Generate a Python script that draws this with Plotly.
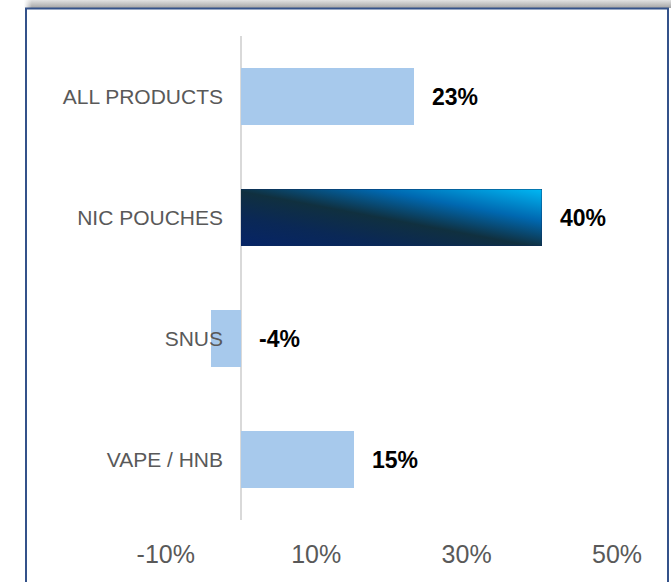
import base64
import plotly.graph_objects as go

# ---- data ----
categories = ["ALL PRODUCTS", "NIC POUCHES", "SNUS", "VAPE / HNB"]
values = [23, 40, -4, 15]
tick_values = [-10, 10, 30, 50]
tick_labels = ["-10%", "10%", "30%", "50%"]
highlight = "NIC POUCHES"

# ---- layout geometry (pixels) ----
W, H = 671, 582
L, R, T, B = 130, 640, 36, 520
BAR_W = 0.467

LIGHT = "#a7c9ec"
NAVY = "#0b2a5c"
FONT = "Liberation Sans, Arial, sans-serif"


def px2paper_x(px):
    return (px - L) / (R - L)


def px2paper_y(py):
    return (B - py) / (B - T)


def svg_uri(svg):
    return "data:image/svg+xml;base64," + base64.b64encode(svg.encode()).decode()


bar_grad = svg_uri(
    "<svg xmlns='http://www.w3.org/2000/svg' width='300' height='56' viewBox='0 0 100 100' "
    "preserveAspectRatio='none'><defs><linearGradient id='g' x1='0' y1='1' x2='1' y2='0'>"
    "<stop offset='0' stop-color='#062466'/>"
    "<stop offset='0.25' stop-color='#0a2856'/>"
    "<stop offset='0.48' stop-color='#10303f'/>"
    "<stop offset='0.72' stop-color='#0068b0'/>"
    "<stop offset='1' stop-color='#00b8f4'/>"
    "</linearGradient></defs><rect width='100' height='100' fill='url(#g)'/></svg>"
)

shadow = svg_uri(
    "<svg xmlns='http://www.w3.org/2000/svg' width='600' height='10' viewBox='0 0 100 100' "
    "preserveAspectRatio='none'><defs>"
    "<linearGradient id='v' x1='0' y1='0' x2='0' y2='1'>"
    "<stop offset='0' stop-color='#e2e2e2'/><stop offset='1' stop-color='#a4a4a4'/>"
    "</linearGradient>"
    "<linearGradient id='h' x1='0' y1='0' x2='1' y2='0'>"
    "<stop offset='0' stop-color='white' stop-opacity='1'/>"
    "<stop offset='0.012' stop-color='white' stop-opacity='0'/>"
    "</linearGradient></defs>"
    "<rect width='100' height='100' fill='url(#v)'/>"
    "<rect width='100' height='100' fill='url(#h)'/></svg>"
)

colors = [NAVY if c == highlight else LIGHT for c in categories]

fig = go.Figure()
fig.add_trace(
    go.Bar(
        x=values,
        y=categories,
        orientation="h",
        width=BAR_W,
        marker=dict(color=colors, line=dict(width=0)),
        hoverinfo="skip",
        showlegend=False,
    )
)

# gradient fill for the highlighted bar
for c, v in zip(categories, values):
    if c == highlight:
        fig.add_layout_image(
            source=bar_grad,
            xref="x",
            yref="y",
            x=0,
            y=c,
            sizex=v,
            sizey=BAR_W,
            xanchor="left",
            yanchor="middle",
            sizing="stretch",
            layer="above",
        )

# value labels
for c, v in zip(categories, values):
    fig.add_annotation(
        x=max(v, 0),
        y=c,
        xref="x",
        yref="y",
        text=f"<b>{v}%</b>",
        showarrow=False,
        xanchor="left",
        yanchor="middle",
        xshift=16,
        font=dict(family=FONT, size=23, color="#000000"),
    )

# frame + shadow
fig.add_layout_image(
    source=shadow,
    xref="paper",
    yref="paper",
    x=px2paper_x(24),
    y=px2paper_y(0),
    sizex=px2paper_x(671) - px2paper_x(24),
    sizey=px2paper_y(0) - px2paper_y(8),
    xanchor="left",
    yanchor="top",
    sizing="stretch",
    layer="below",
)
fig.add_shape(
    type="rect",
    xref="paper",
    yref="paper",
    x0=px2paper_x(26),
    x1=px2paper_x(668),
    y0=px2paper_y(600),
    y1=px2paper_y(8.5),
    line=dict(color="#34528a", width=2),
    fillcolor="rgba(0,0,0,0)",
    layer="above",
)

fig.update_layout(
    width=W,
    height=H,
    autosize=False,
    margin=dict(l=L, r=W - R, t=T, b=H - B, pad=0),
    paper_bgcolor="white",
    plot_bgcolor="white",
    font=dict(family=FONT, color="#595959"),
    bargap=0,
    xaxis=dict(
        range=[(L - 241) / 7.52, (R - 241) / 7.52],
        tickvals=tick_values,
        ticktext=tick_labels,
        tickfont=dict(family=FONT, size=25, color="#595959"),
        showgrid=False,
        showline=False,
        ticks="",
        zeroline=True,
        zerolinecolor="#d9d9d9",
        zerolinewidth=2,
        ticklabelstandoff=17,
        fixedrange=True,
    ),
    yaxis=dict(
        categoryorder="array",
        categoryarray=categories,
        autorange="reversed",
        anchor="free",
        position=px2paper_x(223),
        showgrid=False,
        showline=False,
        zeroline=False,
        ticks="",
        tickfont=dict(family=FONT, size=21, color="#595959"),
        fixedrange=True,
    ),
)

fig.write_html("out.html")
